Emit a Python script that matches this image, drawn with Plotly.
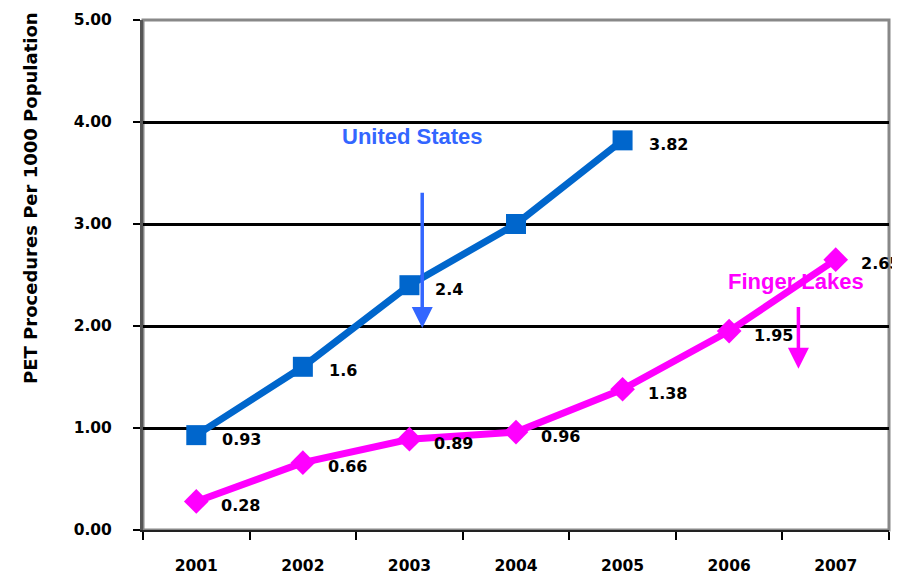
import plotly.graph_objects as go

years = ["2001", "2002", "2003", "2004", "2005", "2006", "2007"]
us_years = ["2001", "2002", "2003", "2004", "2005"]
us_values = [0.93, 1.6, 2.4, 3.0, 3.82]
us_labels = ["0.93", "1.6", "2.4", "", "3.82"]
fl_values = [0.28, 0.66, 0.89, 0.96, 1.38, 1.95, 2.65]
fl_labels = ["0.28", "0.66", "0.89", "0.96", "1.38", "1.95", "2.65"]
y_ticks = [0, 1, 2, 3, 4, 5]
y_ticklabels = ["0.00", "1.00", "2.00", "3.00", "4.00", "5.00"]

NUMFONT = "DejaVu Sans, sans-serif"
FONT = "Liberation Sans, Arial, sans-serif"
BLUE = "#0066CC"
MAG = "#FF00FF"

fig = go.Figure()
fig.add_trace(go.Scatter(
    x=us_years, y=us_values, mode="lines+markers",
    line=dict(color=BLUE, width=7),
    marker=dict(symbol="square", size=20, color=BLUE),
    showlegend=False, cliponaxis=False))
fig.add_trace(go.Scatter(
    x=years, y=fl_values, mode="lines+markers",
    line=dict(color=MAG, width=7),
    marker=dict(symbol="diamond", size=19, color=MAG),
    showlegend=False, cliponaxis=False))

ann = []
for x, y, t in zip(us_years, us_values, us_labels):
    if t:
        ann.append(dict(x=years.index(x), y=y, xref="x", yref="y", text="<b>%s</b>" % t,
                        showarrow=False, xanchor="left", yanchor="middle", xshift=24, yshift=-4,
                        font=dict(family=NUMFONT, size=16, color="black")))
for x, y, t in zip(years, fl_values, fl_labels):
    ann.append(dict(x=years.index(x), y=y, xref="x", yref="y", text="<b>%s</b>" % t,
                    showarrow=False, xanchor="left", yanchor="middle", xshift=23, yshift=-4,
                    font=dict(family=NUMFONT, size=16, color="black")))

# series name labels with arrows
ann.append(dict(x=2.03, y=3.86, xref="x", yref="y", text="<b>United States</b>",
                showarrow=False, font=dict(family=FONT, size=22, color="#3366FF")))
ann.append(dict(x=2.12, y=1.98, ax=2.12, ay=3.32, xref="x", yref="y", axref="x", ayref="y",
                text="", showarrow=True, arrowhead=2, arrowsize=1.2, arrowwidth=3.5,
                arrowcolor="#3366FF"))
ann.append(dict(x=5.63, y=2.44, xref="x", yref="y", text="<b>Finger Lakes</b>",
                showarrow=False, font=dict(family=FONT, size=22, color=MAG)))
ann.append(dict(x=5.65, y=1.58, ax=5.65, ay=2.2, xref="x", yref="y", axref="x", ayref="y",
                text="", showarrow=True, arrowhead=2, arrowsize=1.2, arrowwidth=3.5,
                arrowcolor=MAG))
ann.append(dict(x=-0.1676, y=0.652, xref="paper", yref="paper",
                text="<b>PET Procedures Per 1000 Population</b>", textangle=-90,
                showarrow=False, font=dict(family=NUMFONT, size=18, color="black")))

# page body adds an 8px offset; size/margins compensate so the plot lands where the reference has it
fig.update_layout(
    width=900, height=568,
    margin=dict(l=135, r=19, t=12, b=46),
    paper_bgcolor="white", plot_bgcolor="white",
    annotations=ann,
    shapes=[dict(type="rect", xref="paper", yref="paper", x0=0, y0=0, x1=1, y1=1,
                 line=dict(color="#888888", width=3), layer="below")],
    xaxis=dict(type="category", categoryorder="array", categoryarray=years,
               range=[-0.5, 6.5], tickson="boundaries", ticks="outside", ticklen=8,
               tickwidth=2, tickcolor="black", showline=True, linecolor="#222222",
               linewidth=2, showgrid=False, ticklabelstandoff=20, automargin=False,
               tickfont=dict(family=NUMFONT, size=15.5, color="black"),
               tickprefix="<b>", ticksuffix="</b>"),
    yaxis=dict(range=[0, 5], tickvals=y_ticks, ticktext=["<b>%s</b>" % t for t in y_ticklabels],
               ticks="outside", ticklen=7, tickwidth=2, tickcolor="black",
               showline=True, linecolor="#555555", linewidth=3,
               showgrid=True, gridcolor="black", gridwidth=2.5, zeroline=False,
               ticklabelstandoff=18, automargin=False,
               tickfont=dict(family=NUMFONT, size=15.5, color="black")),
)

fig.write_html("out.html")
